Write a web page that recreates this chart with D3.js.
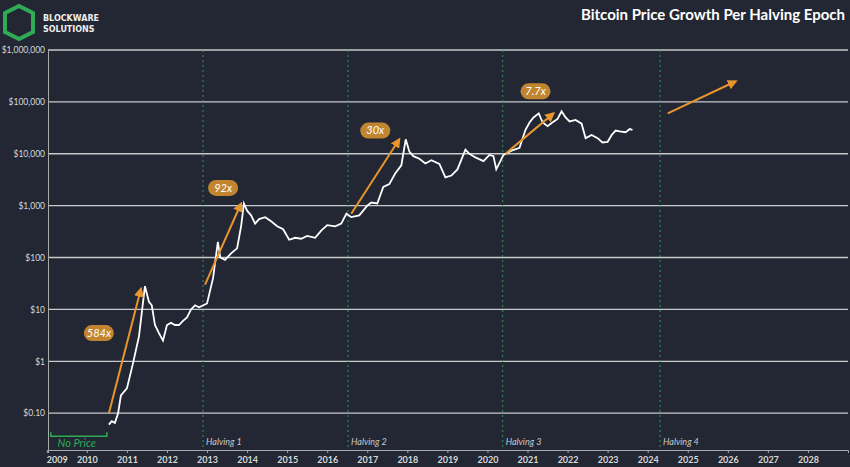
<!DOCTYPE html><html><head><meta charset="utf-8"><script src="https://cdn.jsdelivr.net/npm/d3@7"></script>
<style>body{margin:0;background:#222733}</style></head><body><svg id="c" width="850" height="467"></svg>
<script>
const years=[2009,2010,2011,2012,2013,2014,2015,2016,2017,2018,2019,2020,2021,2022,2023,2024,2025,2026,2027,2028];
const yTicks=[0.1,1,10,100,1000,10000,100000,1000000];
const yLabels=["$0.10","$1","$10","$100","$1,000","$10,000","$100,000","$1,000,000"];
const halvings=[2012.9,2016.52,2020.38,2024.31];
const halvingLabels=["Halving 1","Halving 2","Halving 3","Halving 4"];
const priceDate=[2010.55,2010.62,2010.7,2010.78,2010.85,2011.0,2011.15,2011.3,2011.45,2011.55,2011.62,2011.7,2011.8,2011.9,2012.0,2012.1,2012.2,2012.3,2012.4,2012.5,2012.6,2012.7,2012.8,2013.0,2013.15,2013.27,2013.33,2013.45,2013.6,2013.75,2013.85,2013.92,2014.0,2014.1,2014.2,2014.3,2014.45,2014.6,2014.75,2014.9,2015.05,2015.2,2015.35,2015.5,2015.7,2015.85,2016.0,2016.2,2016.35,2016.48,2016.6,2016.8,2017.0,2017.1,2017.25,2017.4,2017.55,2017.7,2017.85,2017.96,2018.05,2018.15,2018.3,2018.45,2018.6,2018.8,2018.95,2019.1,2019.25,2019.45,2019.55,2019.7,2019.9,2020.05,2020.15,2020.22,2020.4,2020.6,2020.8,2020.95,2021.05,2021.15,2021.28,2021.38,2021.5,2021.62,2021.75,2021.85,2021.95,2022.05,2022.2,2022.35,2022.45,2022.6,2022.75,2022.87,2023.0,2023.1,2023.2,2023.3,2023.45,2023.55,2023.62];
const priceValue=[0.06,0.07,0.065,0.1,0.22,0.3,0.9,3,28,14,12,5,3.5,2.5,5,5.5,5,5,6,7,10,12,11,13,40,200,100,90,120,150,400,1100,800,650,450,550,600,500,400,350,220,240,230,260,240,330,420,400,450,700,600,650,1000,1150,1100,2300,2600,4200,6000,19000,11000,9000,8000,6500,7500,6400,3500,3800,5000,12000,10000,8500,7200,9500,9000,5000,9500,11500,13000,29000,40000,50000,60000,40000,34000,40000,47000,66000,50000,42000,45000,38000,20000,23000,20000,16500,17000,23000,28000,27000,26000,30000,29000];
const arrows=[[2010.55,0.1,2011.35,25],[2012.95,30,2013.85,1100],[2016.6,700,2017.8,19000],[2020.45,10000,2021.65,60000],[2024.5,60000,2026.2,250000]];
const arrowLabels=["584x","92x","30x","7.7x"];
const labelPos=[[2010.3,3.5],[2013.4,2200],[2017.2,28000],[2021.2,160000]];

const svg=d3.select("#c");
const L=48,R=848,T=50,B=450;
const x=d3.scaleLinear().domain([2009.03,2029.0]).range([L,R]);
const y=d3.scaleLog().domain([Math.pow(10,-1.71),1000000]).range([B,T]);
const g=svg.append("g");
g.selectAll(".gr").data(yTicks).join("line").attr("x1",L).attr("x2",R).attr("y1",d=>y(d)).attr("y2",d=>y(d)).attr("stroke","#c8cacd").attr("stroke-width",1.3);
g.selectAll(".hv").data(halvings).join("line").attr("x1",d=>x(d)).attr("x2",d=>x(d)).attr("y1",T).attr("y2",B).attr("stroke","#2f9a5a").attr("stroke-dasharray","2,3").attr("stroke-width",1);
g.selectAll(".hl").data(halvings).join("text").attr("x",d=>x(d)+3).attr("y",B-5).text((d,i)=>halvingLabels[i]).attr("fill","#c8cacd").attr("font-family","Lato").attr("font-style","italic").attr("font-size",9);
const yAx=d3.axisLeft(y).tickValues(yTicks).tickFormat((d,i)=>yLabels[i]).tickSize(0).tickPadding(3);
svg.append("g").attr("transform",`translate(${L},0)`).call(yAx).call(a=>{a.select(".domain").attr("stroke","#aaa");a.selectAll("text").attr("fill","#d8d8d8").attr("font-family","Lato").attr("font-size",8.5);});
const xAx=d3.axisBottom(x).tickValues(years).tickFormat(d=>String(d)).tickSize(3).tickPadding(4);
svg.append("g").attr("transform",`translate(0,${B})`).call(xAx).call(a=>{a.select(".domain").attr("stroke","#aaa");a.selectAll("line").attr("stroke","#aaa");a.selectAll("text").attr("fill","#d8d8d8").attr("font-family","Lato").attr("font-weight","bold").attr("font-size",9).attr("dx",(d,i)=>i==0?10:0);});
svg.append("path").attr("d",`M${x(2009.1)},${y(0.045)+1}V${y(0.045)+5}H${x(2010.5)}V${y(0.045)+1}`).attr("fill","none").attr("stroke","#2faa55").attr("stroke-width",1.5);
svg.append("text").attr("x",x(2009.75)).attr("y",y(0.045)+16).attr("text-anchor","middle").text("No Price").attr("fill","#2faa55").attr("font-family","Lato").attr("font-style","italic").attr("font-size",11);
const line=d3.line().x((d,i)=>x(priceDate[i])).y(d=>y(d)).curve(d3.curveLinear);
svg.append("path").datum(priceValue).attr("d",line).attr("fill","none").attr("stroke","#fff").attr("stroke-width",1.8);
svg.append("defs").append("marker").attr("id","ah").attr("viewBox","0 0 10 10").attr("refX",8).attr("refY",5).attr("markerWidth",5).attr("markerHeight",5).attr("orient","auto").append("path").attr("d","M0,0L10,5L0,10z").attr("fill","#e8952e");
svg.selectAll(".ar").data(arrows).join("line").attr("x1",d=>x(d[0])).attr("y1",d=>y(d[1])).attr("x2",d=>x(d[2])).attr("y2",d=>y(d[3])).attr("stroke","#e8952e").attr("stroke-width",2).attr("marker-end","url(#ah)");
const lg=svg.selectAll(".lb").data(labelPos).join("g").attr("transform",d=>`translate(${x(d[0])},${y(d[1])})`);
lg.append("rect").attr("x",-15).attr("y",-8).attr("width",30).attr("height",16).attr("rx",8).attr("fill","#c2852f");
lg.append("text").attr("text-anchor","middle").attr("dy","0.35em").text((d,i)=>arrowLabels[i]).attr("fill","#fff").attr("font-family","Lato").attr("font-style","italic").attr("font-size",11);
svg.append("text").attr("x",845).attr("y",20).attr("text-anchor","end").text("Bitcoin Price Growth Per Halving Epoch").attr("fill","#fff").attr("font-family","Lato").attr("font-weight","bold").attr("font-size",15);
const lgG=svg.append("g").attr("transform","translate(5,6)");
lgG.append("path").attr("d","M14,0L28,7V26L14,33L0,26V7Z").attr("fill","none").attr("stroke","#2faa55").attr("stroke-width",4);
lgG.append("text").attr("x",38).attr("y",15).text("BLOCKWARE").attr("fill","#eee").attr("font-family","DejaVu Sans").attr("font-weight","bold").attr("font-size",8);
lgG.append("text").attr("x",38).attr("y",26).text("SOLUTIONS").attr("fill","#eee").attr("font-family","DejaVu Sans").attr("font-weight","bold").attr("font-size",8);
</script></body></html>
